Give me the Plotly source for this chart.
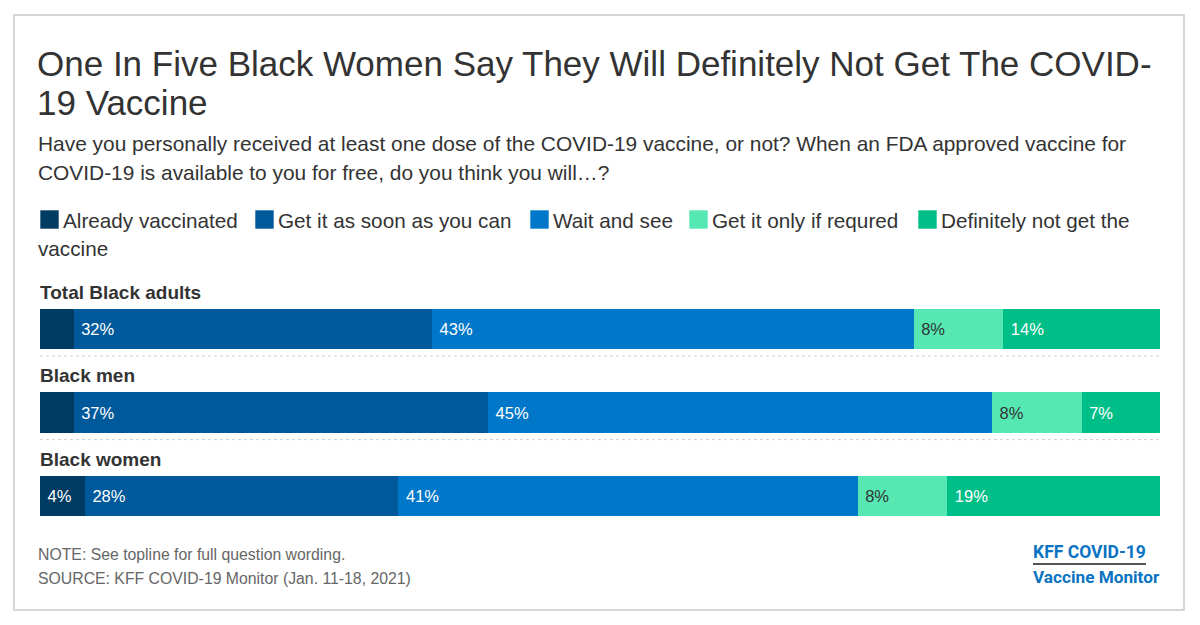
import plotly.graph_objects as go

W, H = 1200, 625

categories = ["Total Black adults", "Black men", "Black women"]
series_names = ["Already vaccinated", "Get it as soon as you can", "Wait and see",
                "Get it only if requred", "Definitely not get the vaccine"]
already_vaccinated = [3, 3, 4]
asap = [32, 37, 28]
wait_and_see = [43, 45, 41]
only_if_required = [8, 8, 8]
definitely_not = [14, 7, 19]

series_values = [already_vaccinated, asap, wait_and_see, only_if_required, definitely_not]
colors = ["#003b63", "#00599a", "#0077c8", "#55e8b3", "#00be87"]
text_colors = ["#ffffff", "#ffffff", "#ffffff", "#333333", "#ffffff"]

FONT = "Liberation Sans, Arial, sans-serif"


def px_x(p):
    return p / W


def px_y(p):
    return 1 - p / H


fig = go.Figure()
for name, vals, col, tcol in zip(series_names, series_values, colors, text_colors):
    fig.add_trace(go.Bar(
        y=categories, x=vals, name=name, orientation="h",
        marker=dict(color=col, line=dict(width=0)),
        text=["\u00a0" + f"{v}%" if v >= 4 else "" for v in vals],
        textposition="inside", insidetextanchor="start",
        textfont=dict(family=FONT, size=16.5, color=tcol),
        width=0.48, showlegend=False, hoverinfo="skip",
    ))

annotations = []
shapes = []

# Title and subtitle lines
title_lines = ["One In Five Black Women Say They Will Definitely Not Get The COVID-",
               "19 Vaccine"]
for line, yc in zip(title_lines, [63, 102]):
    annotations.append(dict(text=line, xref="paper", yref="paper", x=px_x(35), y=px_y(yc),
                            xanchor="left", yanchor="middle", showarrow=False,
                            font=dict(family=FONT, size=35, color="#333333")))
sub_lines = ["Have you personally received at least one dose of the COVID-19 vaccine, or not? When an FDA approved vaccine for",
             "COVID-19 is available to you for free, do you think you will\u2026?"]
for line, yc in zip(sub_lines, [144, 172]):
    annotations.append(dict(text=line, xref="paper", yref="paper", x=px_x(36), y=px_y(yc),
                            xanchor="left", yanchor="middle", showarrow=False,
                            font=dict(family=FONT, size=20.9, color="#333333")))

# Custom legend (wrapping like the original)
legend_square_x = [40, 255, 530, 689, 918]
legend_labels = ["Already vaccinated", "Get it as soon as you can", "Wait and see",
                 "Get it only if requred", "Definitely not get the"]
for sx, lab, col in zip(legend_square_x, legend_labels, colors):
    shapes.append(dict(type="rect", xref="paper", yref="paper",
                       x0=px_x(sx), x1=px_x(sx + 19), y0=px_y(229), y1=px_y(210),
                       fillcolor=col, line=dict(color="rgba(255,255,255,0.6)", width=1)))
    annotations.append(dict(text=lab, xref="paper", yref="paper", x=px_x(sx + 21), y=px_y(220),
                            xanchor="left", yanchor="middle", showarrow=False,
                            font=dict(family=FONT, size=20.7, color="#333333")))
annotations.append(dict(text="vaccine", xref="paper", yref="paper", x=px_x(36), y=px_y(248),
                        xanchor="left", yanchor="middle", showarrow=False,
                        font=dict(family=FONT, size=20.7, color="#333333")))

# Category labels above bars
for cat in categories:
    annotations.append(dict(text=f"<b>{cat}</b>", xref="paper", yref="y", x=px_x(38), y=cat,
                            yshift=37, xanchor="left", yanchor="middle", showarrow=False,
                            font=dict(family=FONT, size=19, color="#333333")))

# Dotted separators below first two bars
for i in range(len(categories) - 1):
    shapes.append(dict(type="line", xref="paper", yref="y", x0=px_x(40), x1=px_x(1160),
                       y0=i + 0.325, y1=i + 0.325, line=dict(color="#cfcfcf", width=1, dash="dot")))

# Notes
for line, yc in zip(["NOTE: See topline for full question wording.",
                     "SOURCE: KFF COVID-19 Monitor (Jan. 11-18, 2021)"], [554, 578]):
    annotations.append(dict(text=line, xref="paper", yref="paper", x=px_x(35.5), y=px_y(yc),
                            xanchor="left", yanchor="middle", showarrow=False,
                            font=dict(family=FONT, size=15.8, color="#666666")))

# Logo text
annotations.append(dict(text="<b>KFF COVID-19</b>", xref="paper", yref="paper", x=px_x(1031), y=px_y(552),
                        xanchor="left", yanchor="middle", showarrow=False,
                        font=dict(family="Roboto, sans-serif", size=17.5, color="#0a74c2")))
annotations.append(dict(text="<b>Vaccine Monitor</b>", xref="paper", yref="paper", x=px_x(1031), y=px_y(577),
                        xanchor="left", yanchor="middle", showarrow=False,
                        font=dict(family="Roboto, sans-serif", size=17.2, color="#0a74c2")))
shapes.append(dict(type="line", xref="paper", yref="paper", x0=px_x(1033), x1=px_x(1146),
                   y0=px_y(564), y1=px_y(564), line=dict(color="#555555", width=2)))

# Outer border
shapes.append(dict(type="rect", xref="paper", yref="paper", x0=px_x(14), x1=px_x(1184),
                   y0=px_y(610), y1=px_y(15), line=dict(color="#d6d6d6", width=2)))

fig.update_layout(
    width=W, height=H, barmode="stack",
    margin=dict(l=0, r=0, t=0, b=0),
    paper_bgcolor="white", plot_bgcolor="white",
    xaxis=dict(domain=[px_x(40), px_x(1160)], range=[0, 100], visible=False, fixedrange=True),
    yaxis=dict(domain=[1 - 537.75 / H, 1 - 287.25 / H], range=[2.5, -0.5], visible=False,
               type="category", fixedrange=True),
    annotations=annotations, shapes=shapes,
    font=dict(family=FONT),
    uniformtext=dict(minsize=8, mode="show"),
)

fig.write_html("out.html", config={"displayModeBar": False})
